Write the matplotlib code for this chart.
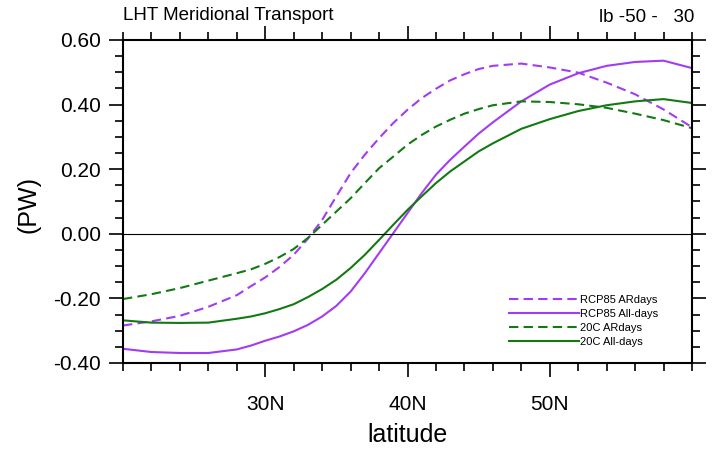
import matplotlib
matplotlib.use("Agg")
import matplotlib.pyplot as plt
from matplotlib.ticker import MultipleLocator, FixedLocator

plt.rcParams['font.family'] = ['Liberation Sans', 'DejaVu Sans']

lat = [20, 22, 24, 26, 28, 29, 30, 31, 32, 33, 34, 35, 36, 37, 38, 39, 40,
       41, 42, 43, 44, 45, 46, 48, 50, 52, 54, 56, 58, 60]

rcp85_ar = [-0.284, -0.271, -0.254, -0.226, -0.190, -0.162, -0.135, -0.103, -0.065, -0.015, 0.043,
            0.116, 0.188, 0.245, 0.296, 0.343, 0.384, 0.420, 0.449, 0.475, 0.494, 0.510, 0.520,
            0.527, 0.515, 0.499, 0.468, 0.432, 0.385, 0.330]
rcp85_all = [-0.356, -0.366, -0.369, -0.369, -0.358, -0.346, -0.331, -0.318, -0.302, -0.282, -0.256,
             -0.223, -0.179, -0.122, -0.060, 0.002, 0.064, 0.126, 0.183, 0.229, 0.270, 0.310, 0.345,
             0.410, 0.462, 0.497, 0.520, 0.532, 0.536, 0.513]
c20_ar = [-0.202, -0.187, -0.168, -0.145, -0.122, -0.110, -0.093, -0.072, -0.047, -0.013, 0.028,
          0.069, 0.110, 0.157, 0.203, 0.239, 0.276, 0.306, 0.332, 0.353, 0.372, 0.386, 0.398,
          0.410, 0.408, 0.401, 0.390, 0.372, 0.352, 0.327]
c20_all = [-0.268, -0.275, -0.276, -0.275, -0.263, -0.256, -0.246, -0.233, -0.218, -0.196, -0.171,
           -0.142, -0.106, -0.065, -0.019, 0.028, 0.074, 0.116, 0.157, 0.193, 0.224, 0.255, 0.280,
           0.325, 0.355, 0.380, 0.398, 0.410, 0.417, 0.405]

labels = ["RCP85 ARdays", "RCP85 All-days", "20C ARdays", "20C All-days"]
purple = "#a23cf2"
green = "#137a13"
dash = (0, (4.5, 2.5))

fig = plt.figure(figsize=(7.12, 4.5), dpi=100)
ax = fig.add_axes([123/712, 1-363/450, 569/712, 323/450])

ax.plot(lat, rcp85_ar, color=purple, lw=1.5, linestyle=dash, label=labels[0])
ax.plot(lat, rcp85_all, color=purple, lw=1.5, label=labels[1])
ax.plot(lat, c20_ar, color=green, lw=1.5, linestyle=dash, label=labels[2])
ax.plot(lat, c20_all, color=green, lw=1.5, label=labels[3])
ax.axhline(0, color="black", lw=0.8)

ax.set_xlim(20, 60)
ax.set_ylim(-0.4, 0.6)
ax.xaxis.set_major_locator(FixedLocator([30, 40, 50]))
ax.set_xticklabels(["30N", "40N", "50N"])
ax.xaxis.set_minor_locator(MultipleLocator(2))
ax.yaxis.set_major_locator(MultipleLocator(0.2))
ax.yaxis.set_minor_locator(MultipleLocator(0.05))
ax.yaxis.set_major_formatter(plt.FuncFormatter(lambda v, p: "%.2f" % v))

ax.tick_params(which="both", direction="out", top=True, right=True, width=1.2)
ax.tick_params(which="major", length=10, labelsize=15)
ax.tick_params(axis="x", which="major", pad=13)
ax.tick_params(axis="y", which="major", pad=6)
ax.tick_params(which="minor", length=6)
for s in ax.spines.values():
    s.set_linewidth(1.5)

leg = ax.legend(loc="lower left", bbox_to_anchor=(0.66, 0.02), frameon=False, fontsize=8,
                handlelength=6.3, handletextpad=0.1, labelspacing=0.35)

fig.text(123/712, 1-16/450, "LHT Meridional Transport", fontsize=13.5, ha="left", va="center")
fig.text(694/712, 1-17/450, "lb -50 -   30", fontsize=13.5, ha="right", va="center")
fig.text(28/712, 1-205/450, "(PW)", fontsize=18, rotation=90, ha="center", va="center")
fig.text(408/712, 1-435/450, "latitude", fontsize=18, ha="center", va="center")
# partly cut-off label at the very top, as in the original
fig.text(407/712, 1-4/450, "latitude", fontsize=18, ha="center", va="bottom", color="#888888")

fig.savefig("out.png", dpi=100)
